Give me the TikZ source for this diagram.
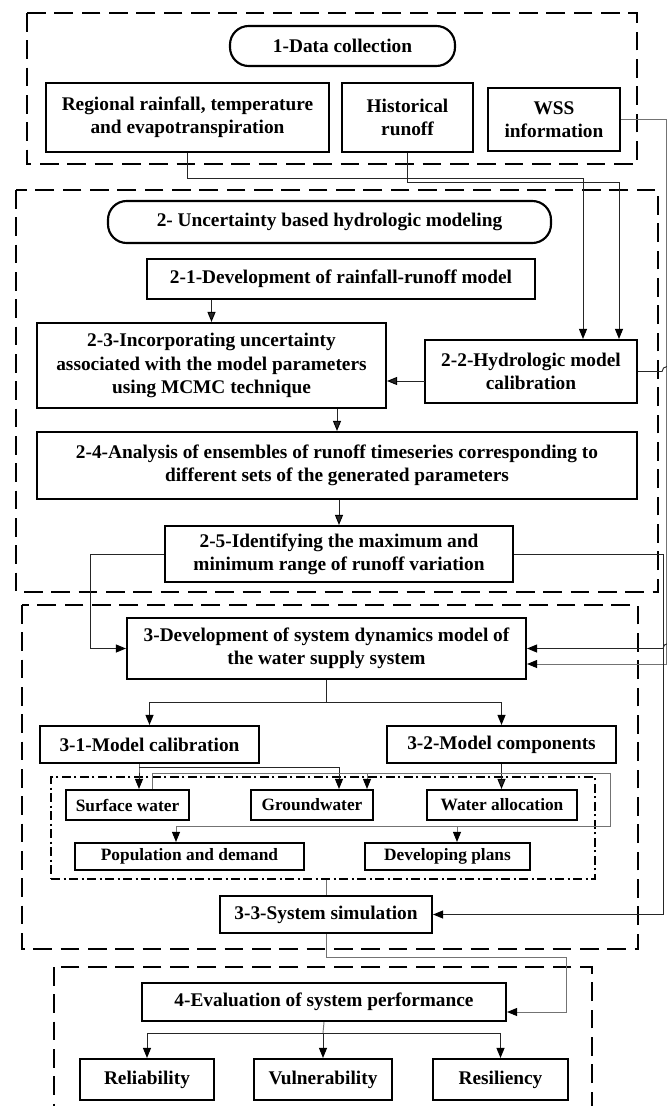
\documentclass[tikz,border=0pt]{standalone}
\usepackage{fontspec}
\setmainfont{Liberation Serif}
\usetikzlibrary{arrows.meta}

\begin{document}
\begin{tikzpicture}[x=0.75pt, y=-0.75pt, >={Triangle[length=7.5pt, width=6pt, color=black]},
    sz/.style 2 args={minimum width=#1*0.75pt, minimum height=#2*0.75pt},
    box/.style={draw, line width=1.6pt, align=center, inner sep=1pt, font=\bfseries\fontsize{14.5}{17.5}\selectfont},
    part/.style={box, font=\bfseries\fontsize{13}{15}\selectfont},
    title/.style={box, rounded corners=14pt},
    group/.style={draw, line width=1.9pt, dash pattern=on 14pt off 6.5pt},
    frame/.style={draw, line width=1pt, dash pattern=on 7pt off 2.5pt on 1.5pt off 2.5pt},
    link/.style={line width=0.7pt, black!85},
    pale/.style={line width=0.7pt, black!55}]
    \useasboundingbox (0,0) rectangle (667,1106);
    \clip (0,0) rectangle (667,1106);

    \draw[group] (27,13) rectangle (637,164);
    \draw[group] (16,190) rectangle (658,592);
    \draw[group] (22,605) rectangle (638,949);
    \draw[group] (54,967) rectangle (592,1125);

    \node[title, sz={225}{40}] (d0) at (342.5,46) {1-Data collection};
    \node[box, sz={283}{69}] (d1) at (187.5,117.5) {Regional rainfall, temperature\\and evapotranspiration};
    \node[box, sz={131}{69}] (d2) at (407.5,117.5) {Historical\\runoff};
    \node[box, sz={132}{63}] (d3) at (554,119.5) {WSS\\information};

    \node[title, sz={443}{42}] (h0) at (329.5,222) {2- Uncertainty based hydrologic modeling};
    \node[box, sz={388}{40}] (h1) at (341,279) {2-1-Development of rainfall-runoff model};
    \node[box, sz={212}{63}] (h2) at (531,371.5) {2-2-Hydrologic model\\calibration};
    \node[box, sz={349}{85}] (h3) at (211.5,365.5) {2-3-Incorporating uncertainty\\associated with the model parameters\\using MCMC technique};
    \node[box, sz={600}{67}] (h4) at (337,465.5) {2-4-Analysis of ensembles of runoff timeseries corresponding to\\different sets of the generated parameters};
    \node[box, sz={348}{56}] (h5) at (339,554) {2-5-Identifying the maximum and\\minimum range of runoff variation};

    \node[box, sz={399}{61}] (m0) at (326.5,648.5) {3-Development of system dynamics model of\\the water supply system};
    \node[box, sz={219}{37}] (m1) at (149.5,744.5) {3-1-Model calibration};
    \node[box, sz={229}{37}] (m2) at (501.5,744.5) {3-2-Model components};
    \node[frame, sz={544}{102}] (fr) at (323,828) {};
    \node[part, sz={123}{30}] (c1) at (127.5,805) {Surface water};
    \node[part, sz={122}{30}] (c2) at (312,805) {Groundwater};
    \node[part, sz={150}{30}] (c3) at (502,805) {Water allocation};
    \node[part, sz={229}{27}] (c4) at (189.5,856.5) {Population and demand};
    \node[part, sz={165}{27}] (c5) at (447.5,856.5) {Developing plans};
    \node[box, sz={212}{37}] (m3) at (326,914.5) {3-3-System simulation};

    \node[box, sz={364}{38}] (e0) at (324,1002) {4-Evaluation of system performance};
    \node[box, sz={134}{41}] (e1) at (147,1079.5) {Reliability};
    \node[box, sz={138}{41}] (e2) at (323,1079.5) {Vulnerability};
    \node[box, sz={135}{41}] (e3) at (500.5,1079.5) {Resiliency};

    \coordinate (r1) at (583,178);
    \coordinate (r2) at (619,182);
    \coordinate (r3) at (666,664);
    \coordinate (r4) at (90,554);
    \coordinate (r5) at (663,554);
    \coordinate (r6) at (325,702);
    \coordinate (r7) at (139,767);
    \coordinate (r8) at (339,767);
    \coordinate (r9) at (152,773);
    \coordinate (r10) at (610,826);
    \coordinate (r11) at (176,826);
    \coordinate (r12) at (367,773);
    \coordinate (r13) at (457,826);
    \coordinate (r14) at (566,957);
    \coordinate (r15) at (566,1012);
    \coordinate (r16) at (323,1033);
    \coordinate (a1) at (425,381);

    \path[link, ->]
    (h3.north |- h1.south) edge (h3.north)
        (a1) edge (a1 -| h3.east)
    (h4.north |- h3.south) edge (h4.north)
        (h5.north |- h4.south) edge (h5.north)
    (m2.south) edge (m2.south |- c3.north);

    \draw[link, ->] (d1.south) |- (r1) -- (r1 |- h2.north);
    \draw[link, ->] (d2.south) |- (r2) -- (r2 |- h2.north);
    \draw[pale, ->] (d3.east) -| (r3) -- (r3 -| m0.east);
    \draw[link, ->] (h2.east) -- ++(24,0) arc[start angle=180, end angle=360, radius=5]
        -- ++(10,0) |- ([xshift=7.5pt]m0.east -| r5) arc[start angle=0, end angle=-180, radius=5] -- (m0.east);
    \draw[link, ->] (h5.west) -- (r4) |- (m0.west);
    \draw[link, ->] (h5.east) -- (r5) |- (m3.east);

    \draw[link] (m0.south) -- (m0.south |- r6);
    \draw[link, ->] (r6) -| (m1.north);
    \draw[link, ->] (r6) -| (m2.north);
    \draw[link, ->] (r7 |- m1.south) -- (r7) -- (r7 |- c1.north);
    \draw[link, ->] (r7) -- (r8) -- (r8 |- c2.north);
    \draw[pale] (r9 |- c1.north) -- (r9) -| (r10) -- (r11);
    \draw[pale, ->] (r11) -- (r11 |- c4.north);
    \draw[pale, ->] (r12) -- (r12 |- c2.north);
    \draw[pale, ->] (r13) -- (r13 |- c5.north);
    \draw[pale] (m3.north |- fr.south) -- (m3.north);

    \draw[pale, ->] (m3.south) |- (r14) -- (r15) -- (r15 -| e0.east);
    \draw[pale] (e0.south) -- (r16);
    \draw[link, ->] (r16) -| (e1.north);
    \draw[link, ->] (r16) -- (e2.north);
    \draw[link, ->] (r16) -| (e3.north);
\end{tikzpicture}
\end{document}
